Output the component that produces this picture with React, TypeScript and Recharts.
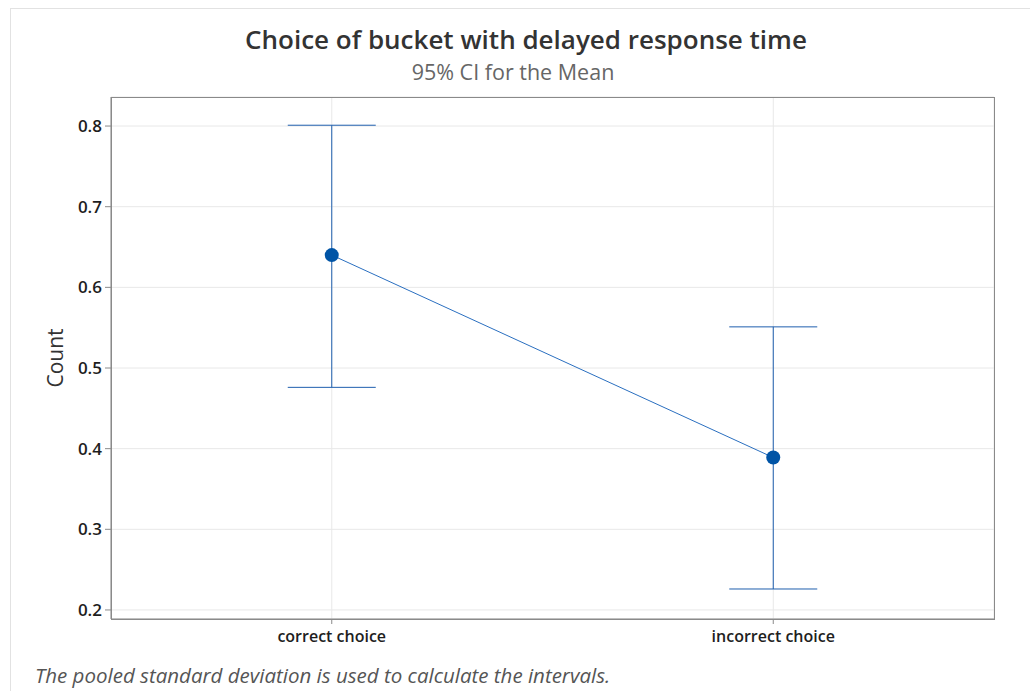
import {
  CartesianGrid,
  ComposedChart,
  ErrorBar,
  Line,
  XAxis,
  YAxis,
} from "recharts";

// values (95% CI for the mean)
const categories = ["correct choice", "incorrect choice"];
const means = [0.64, 0.389];
const lowerCI = [0.476, 0.226];
const upperCI = [0.801, 0.551];
const yTicks = [0.2, 0.3, 0.4, 0.5, 0.6, 0.7, 0.8];

const data = categories.map((name, i) => ({
  name,
  mean: means[i],
  ci: [means[i] - lowerCI[i], upperCI[i] - means[i]],
}));

const FONT = "'Open Sans', 'Noto Sans', sans-serif";
const BLUE = "#0054a6";
const FRAME = "#8a8a8a";
const Y_DOMAIN: [number, number] = [0.1888, 0.836];

const W = 1030;
const H = 691;
const MARGIN = { top: 97, right: 36, bottom: 42, left: 51 };
const Y_AXIS_W = 60;
const X_AXIS_H = 30;

export default function App() {
  const plotLeft = MARGIN.left + Y_AXIS_W;
  const plotRight = W - MARGIN.right;
  const plotBottom = H - MARGIN.bottom - X_AXIS_H;
  return (
    <div
      style={{
        position: "absolute",
        left: 0,
        top: 0,
        width: W,
        height: H,
        background: "#fff",
        fontFamily: FONT,
        overflow: "hidden",
      }}
    >
      {/* light outer frame */}
      <div
        style={{
          position: "absolute",
          left: 10,
          top: 8,
          width: 1040,
          height: 700,
          border: "1px solid #e2e2e2",
        }}
      />
      <div
        style={{
          position: "absolute",
          top: 26,
          left: 0,
          width: 1052,
          textAlign: "center",
          fontSize: 26,
          fontWeight: 600,
          color: "#333",
          lineHeight: "26px",
        }}
      >
        Choice of bucket with delayed response time
      </div>
      <div
        style={{
          position: "absolute",
          top: 60,
          left: 0,
          width: 1026,
          textAlign: "center",
          fontSize: 21.5,
          color: "#666",
          lineHeight: "24px",
        }}
      >
        95% CI for the Mean
      </div>
      <div
        style={{
          position: "absolute",
          left: 55,
          top: 358,
          transform: "translate(-50%, -50%) rotate(-90deg)",
          fontSize: 21,
          fontWeight: 500,
          color: "#333",
          whiteSpace: "nowrap",
        }}
      >
        Count
      </div>

      <ComposedChart
        width={W}
        height={H}
        data={data}
        margin={MARGIN}
        style={{ position: "absolute", left: 0, top: 0 }}
      >
        <CartesianGrid stroke="#e8e8e8" strokeWidth={1} />
        <XAxis
          dataKey="name"
          type="category"
          scale="band"
          height={X_AXIS_H}
          stroke={FRAME}
          tickSize={5}
          tickMargin={7}
          tick={{ fill: "#1e1e1e", fontSize: 16, fontWeight: 600, fontFamily: FONT }}
        />
        <YAxis
          type="number"
          domain={Y_DOMAIN}
          ticks={yTicks}
          width={Y_AXIS_W}
          stroke={FRAME}
          tickSize={6}
          tickMargin={3}
          allowDataOverflow
          tickFormatter={(v: number) => v.toFixed(1)}
          tick={{ fill: "#1e1e1e", fontSize: 17, fontWeight: 600, fontFamily: FONT }}
        />
        <Line
          dataKey="mean"
          stroke="#2a6fc0"
          strokeWidth={1}
          isAnimationActive={false}
          dot={{ r: 7, fill: BLUE, stroke: BLUE, strokeWidth: 0 }}
          activeDot={false}
        >
          <ErrorBar
            dataKey="ci"
            direction="y"
            width={44}
            stroke="#1f5fae"
            strokeWidth={1}
            isAnimationActive={false}
          />
        </Line>
      </ComposedChart>

      {/* plot frame */}
      <div
        style={{
          position: "absolute",
          left: plotLeft,
          top: MARGIN.top,
          width: plotRight - plotLeft + 1,
          height: plotBottom - MARGIN.top + 1,
          boxSizing: "border-box",
          border: `1px solid ${FRAME}`,
          pointerEvents: "none",
        }}
      />

      <div
        style={{
          position: "absolute",
          left: 35,
          top: 660,
          fontSize: 20.5,
          fontStyle: "italic",
          color: "#555",
          whiteSpace: "nowrap",
          lineHeight: "30px",
        }}
      >
        The pooled standard deviation is used to calculate the intervals.
      </div>
    </div>
  );
}
